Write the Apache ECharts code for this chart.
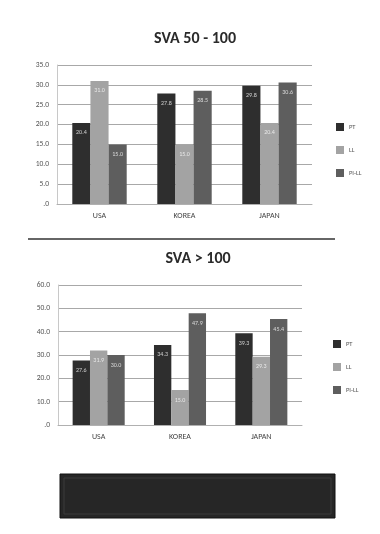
<!DOCTYPE html>
<html>
<head>
<meta charset="utf-8">
<script src="https://cdn.jsdelivr.net/npm/echarts@6/dist/echarts.min.js"></script>
<style>
  html, body { margin: 0; padding: 0; background: #fff; }
  #chart { width: 380px; height: 534px; }
</style>
</head>
<body>
<div id="chart"></div>
<script>
// Countries compared in both panels
const countries = ['USA', 'KOREA', 'JAPAN'];
const seriesNames = ['PT', 'LL', 'PI-LL'];

// Panel 1: SVA 50 - 100
const sva50PT = [20.4, 27.8, 29.8];
const sva50LL = [31.0, 15.0, 20.4];
const sva50PILL = [15.0, 28.5, 30.6];
const sva50Ticks = { min: 0, max: 35, interval: 5 };

// Panel 2: SVA > 100
const sva100PT = [27.6, 34.3, 39.3];
const sva100LL = [31.9, 15.0, 29.3];
const sva100PILL = [30.0, 47.9, 45.4];
const sva100Ticks = { min: 0, max: 60, interval: 10 };

const colors = ['#2e2e2e', '#a3a3a3', '#5e5e5e'];

const chart = echarts.init(document.getElementById('chart'), null, { renderer: 'canvas' });

const fontFamily = 'Calibri, "Liberation Sans", Arial, sans-serif';

function yAxisFor(gridIndex, ticks) {
  return {
    type: 'value',
    gridIndex: gridIndex,
    min: ticks.min, max: ticks.max, interval: ticks.interval,
    axisLine: { show: true, lineStyle: { color: '#c8c8c8' } },
    axisTick: { show: false },
    axisLabel: {
      color: '#555', fontSize: 7.5, fontFamily: fontFamily, margin: 8,
      formatter: v => (v === 0 ? '.0' : v.toFixed(1))
    },
    splitLine: { lineStyle: { color: '#a8a8a8', width: 1 } }
  };
}

function xAxisFor(gridIndex) {
  return {
    type: 'category',
    gridIndex: gridIndex,
    data: countries,
    axisLine: { lineStyle: { color: '#b0b0b0' } },
    axisTick: { show: false },
    axisLabel: { color: '#444', fontSize: 8, fontFamily: fontFamily, margin: 8 }
  };
}

function barSeries(name, data, idx, axisIdx) {
  return {
    name: name,
    type: 'bar',
    xAxisIndex: axisIdx,
    yAxisIndex: axisIdx,
    data: data,
    barGap: '0%',
    barCategoryGap: '36%',
    itemStyle: { color: colors[idx] },
    label: {
      show: true,
      position: 'insideTop',
      distance: 7,
      color: 'rgba(255,255,255,0.75)',
      fontSize: 6,
      fontFamily: fontFamily,
      formatter: p => p.value.toFixed(1)
    }
  };
}

chart.setOption({
  animation: false,
  backgroundColor: '#ffffff',
  color: colors,
  title: [
    {
      text: 'SVA 50 - 100', left: 190, top: 26, textAlign: 'center',
      textStyle: { fontSize: 16, fontWeight: 'bold', color: '#2a2a2a', fontFamily: fontFamily }
    },
    {
      text: 'SVA > 100', left: 193, top: 246, textAlign: 'center',
      textStyle: { fontSize: 16, fontWeight: 'bold', color: '#2a2a2a', fontFamily: fontFamily }
    }
  ],
  legend: [
    {
      data: seriesNames, orient: 'vertical', left: 331, top: 118,
      itemWidth: 8, itemHeight: 8, itemGap: 15, icon: 'rect',
      textStyle: { fontSize: 6.5, color: '#555', fontFamily: fontFamily },
      selectedMode: false
    },
    {
      data: seriesNames, orient: 'vertical', left: 328, top: 335,
      itemWidth: 8, itemHeight: 8, itemGap: 15, icon: 'rect',
      textStyle: { fontSize: 6.5, color: '#555', fontFamily: fontFamily },
      selectedMode: false
    }
  ],
  grid: [
    { left: 57, top: 65, width: 255, height: 139 },
    { left: 58, top: 285, width: 244, height: 140 }
  ],
  xAxis: [xAxisFor(0), xAxisFor(1)],
  yAxis: [yAxisFor(0, sva50Ticks), yAxisFor(1, sva100Ticks)],
  series: [
    barSeries('PT', sva50PT, 0, 0),
    barSeries('LL', sva50LL, 1, 0),
    barSeries('PI-LL', sva50PILL, 2, 0),
    barSeries('PT', sva100PT, 0, 1),
    barSeries('LL', sva100LL, 1, 1),
    barSeries('PI-LL', sva100PILL, 2, 1)
  ],
  graphic: [
    // divider between the two panels
    { type: 'line', shape: { x1: 28, y1: 239, x2: 335, y2: 239 },
      style: { stroke: '#333', lineWidth: 1.5 } },
    // dark footer panel
    { type: 'rect', shape: { x: 60, y: 474, width: 275, height: 44 },
      style: { fill: '#262626', stroke: '#111', lineWidth: 1 } },
    { type: 'rect', shape: { x: 64, y: 478, width: 267, height: 36 },
      style: { fill: 'none', stroke: '#3a3a3a', lineWidth: 1 } }
  ]
});
</script>
</body>
</html>
